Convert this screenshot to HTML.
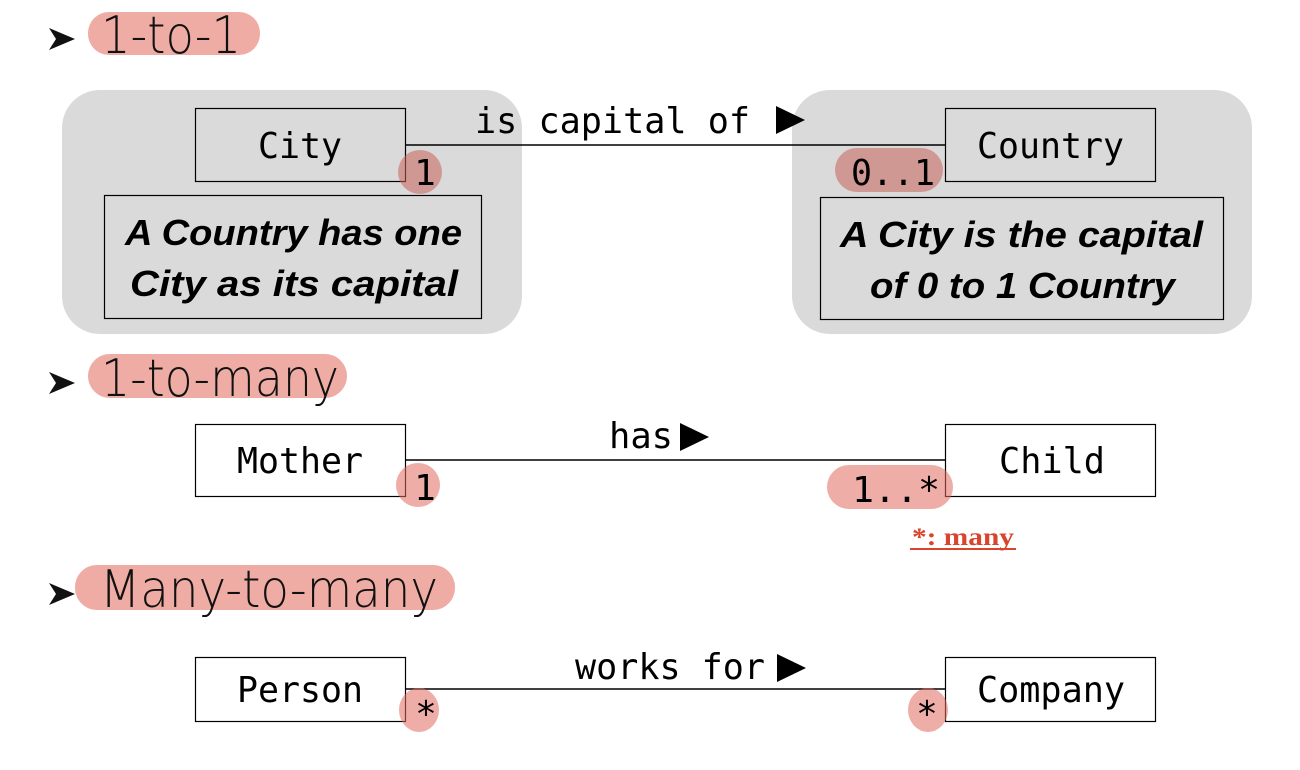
<!DOCTYPE html>
<html><head><meta charset="utf-8"><style>
html,body{margin:0;padding:0;background:#fff;width:1300px;height:770px;overflow:hidden}
svg{display:block}
.m{font-family:"DejaVu Sans Mono","Liberation Mono",monospace;font-size:36px;fill:#000}
.h{font-family:"DejaVu Sans","Liberation Sans",sans-serif;font-weight:300;font-size:52px;fill:#111}
.n{font-family:"Liberation Sans",sans-serif;font-style:italic;font-weight:bold;font-size:36px;fill:#000}
</style></head><body>
<svg width="1300" height="770" viewBox="0 0 1300 770" xmlns="http://www.w3.org/2000/svg">
<g fill="#111">
<path d="M49,28 L75,39 L49,50 L56,39 Z"/>
<path d="M49,372 L75,383 L49,394 L56,383 Z"/>
<path d="M49,583 L75,594 L49,605 L56,594 Z"/>
</g>
<rect x="88" y="12" width="172" height="43" rx="21" fill="#eeaca4"/>
<text class="h" x="101" y="53" textLength="140" lengthAdjust="spacingAndGlyphs">1-to-1</text>
<rect x="88" y="354" width="259" height="44" rx="22" fill="#eeaca4"/>
<text class="h" x="101" y="396" textLength="238" lengthAdjust="spacingAndGlyphs">1-to-many</text>
<rect x="75" y="565" width="380" height="45" rx="22" fill="#eeaca4"/>
<text class="h" x="100" y="607" textLength="338" lengthAdjust="spacingAndGlyphs">Many-to-many</text>

<rect x="62" y="90" width="460" height="244" rx="38" fill="#dadada"/>
<rect x="792" y="90" width="460" height="244" rx="38" fill="#dadada"/>
<line x1="405" y1="145" x2="945" y2="145" stroke="#000" stroke-width="1.5"/>
<text class="m" x="475" y="133" textLength="275" lengthAdjust="spacingAndGlyphs">is capital of</text>
<path d="M776,106 L805,120 L776,134 Z" fill="#000"/>
<rect x="195.5" y="108.5" width="210" height="73" fill="none" stroke="#000" stroke-width="1.2"/>
<text class="m" x="258" y="158" textLength="84" lengthAdjust="spacingAndGlyphs">City</text>
<rect x="945.5" y="108.5" width="210" height="73" fill="none" stroke="#000" stroke-width="1.2"/>
<text class="m" x="977" y="158" textLength="147" lengthAdjust="spacingAndGlyphs">Country</text>
<rect x="104.5" y="195.5" width="377" height="123" fill="none" stroke="#000" stroke-width="1.2"/>
<text class="n" x="125" y="245" textLength="337" lengthAdjust="spacingAndGlyphs">A Country has one</text>
<text class="n" x="130" y="296" textLength="328" lengthAdjust="spacingAndGlyphs">City as its capital</text>
<rect x="820.5" y="197.5" width="403" height="122" fill="none" stroke="#000" stroke-width="1.2"/>
<text class="n" x="840" y="247" textLength="363" lengthAdjust="spacingAndGlyphs">A City is the capital</text>
<text class="n" x="870" y="298" textLength="305" lengthAdjust="spacingAndGlyphs">of 0 to 1 Country</text>
<circle cx="420" cy="172" r="22" fill="#c8625a" fill-opacity="0.55"/>
<text class="m" x="425" y="185" text-anchor="middle">1</text>
<rect x="835" y="148" width="108" height="44" rx="22" fill="#c8625a" fill-opacity="0.55"/>
<text class="m" x="851" y="185" textLength="84" lengthAdjust="spacingAndGlyphs">0..1</text>

<line x1="405" y1="460" x2="945" y2="460" stroke="#000" stroke-width="1.5"/>
<text class="m" x="609" y="448" textLength="64" lengthAdjust="spacingAndGlyphs">has</text>
<path d="M680,423 L709,437 L680,451 Z" fill="#000"/>
<rect x="195.5" y="424.5" width="210" height="72" fill="#fff" stroke="#000" stroke-width="1.2"/>
<text class="m" x="237" y="473" textLength="126" lengthAdjust="spacingAndGlyphs">Mother</text>
<rect x="945.5" y="424.5" width="210" height="72" fill="#fff" stroke="#000" stroke-width="1.2"/>
<text class="m" x="999" y="473" textLength="106" lengthAdjust="spacingAndGlyphs">Child</text>
<circle cx="418" cy="485" r="22" fill="#e06a5c" fill-opacity="0.55"/>
<text class="m" x="425" y="500" text-anchor="middle">1</text>
<rect x="827" y="465" width="126" height="44" rx="22" fill="#e06a5c" fill-opacity="0.55"/>
<text class="m" x="852" y="502" textLength="88" lengthAdjust="spacingAndGlyphs">1..*</text>
<text x="912" y="545" font-family="Liberation Serif,serif" font-weight="bold" font-size="25" fill="#d9442d" textLength="102" lengthAdjust="spacingAndGlyphs">*: many</text>
<line x1="910" y1="549" x2="1016" y2="549" stroke="#d9442d" stroke-width="2"/>

<line x1="405" y1="689" x2="945" y2="689" stroke="#000" stroke-width="1.5"/>
<text class="m" x="575" y="679" textLength="190" lengthAdjust="spacingAndGlyphs">works for</text>
<path d="M777,654 L806,668 L777,682 Z" fill="#000"/>
<rect x="195.5" y="657.5" width="210" height="64" fill="#fff" stroke="#000" stroke-width="1.2"/>
<text class="m" x="237" y="702" textLength="126" lengthAdjust="spacingAndGlyphs">Person</text>
<rect x="945.5" y="657.5" width="210" height="64" fill="#fff" stroke="#000" stroke-width="1.2"/>
<text class="m" x="977" y="702" textLength="148" lengthAdjust="spacingAndGlyphs">Company</text>
<ellipse cx="419" cy="710" rx="20" ry="22" fill="#e06a5c" fill-opacity="0.55"/>
<text class="m" x="426" y="726" text-anchor="middle">*</text>
<ellipse cx="928" cy="710" rx="20" ry="22" fill="#e06a5c" fill-opacity="0.55"/>
<text class="m" x="927" y="726" text-anchor="middle">*</text>
</svg>
</body></html>
